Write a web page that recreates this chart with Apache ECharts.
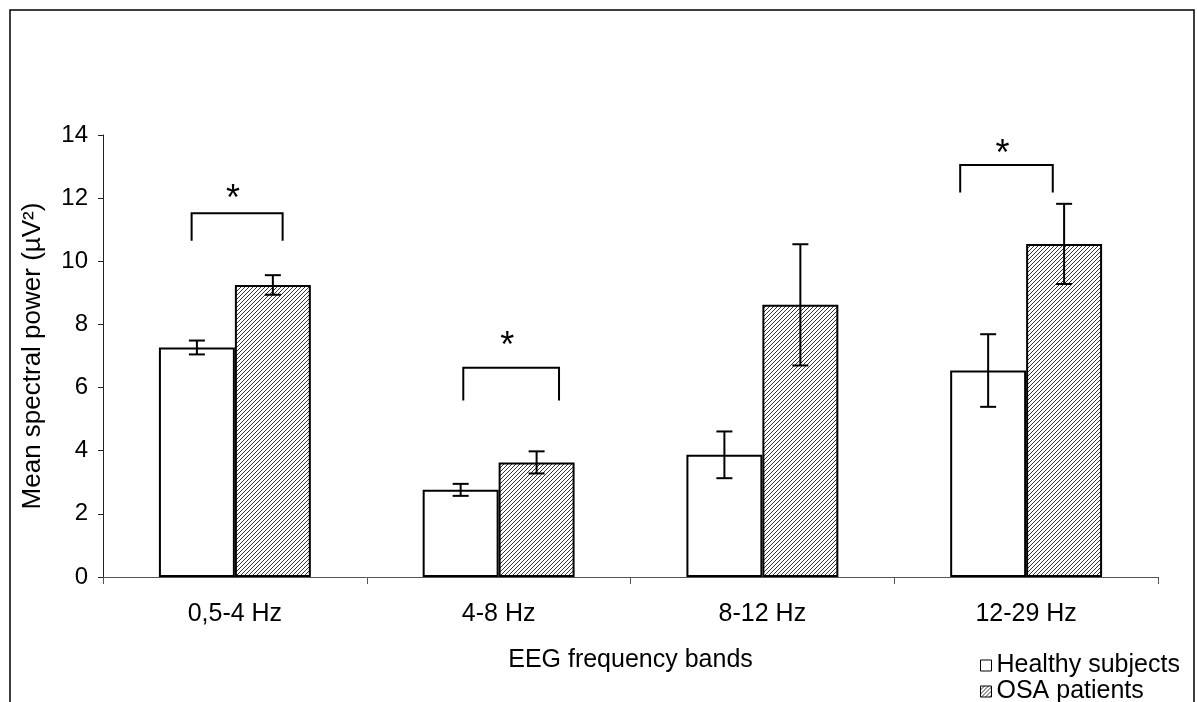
<!DOCTYPE html>
<html>
<head>
<meta charset="utf-8">
<script src="https://cdn.jsdelivr.net/npm/echarts@6/dist/echarts.min.js"></script>
<style>
	html, body { margin: 0; padding: 0; background: #fff; }
	#chart { width: 1198px; height: 702px; }
</style>
</head>
<body>
<div id="chart"></div>
<script>
	'use strict'
	var bands = ['0,5-4 Hz', '4-8 Hz', '8-12 Hz', '12-29 Hz'];
	var healthy = [7.27, 2.76, 3.87, 6.54];
	var healthyErr = [0.22, 0.19, 0.74, 1.15];
	var osa = [9.25, 3.63, 8.62, 10.55];
	var osaErr = [0.31, 0.35, 1.92, 1.27];
	var yTicks = [0, 2, 4, 6, 8, 10, 12, 14];

	/*----significance brackets----*/
	var sigBand = [0, 1, 3];
	var sigLeg = [10.65, 5.59, 12.18];
	var sigTop = [11.52, 6.63, 13.05];
	var sigStar = [12.17, 7.51, 13.58];
	var sigLeft = [-0.164, -0.134, -0.25];
	var sigRight = [0.181, 0.229, 0.101];

	var barFrac = 0.288;
	var font = 'Liberation Sans, Arial, sans-serif';

	// hatch tile
	var tile = document.createElement('canvas');
	tile.width = 4;
	tile.height = 4;
	var tc = tile.getContext('2d');
	tc.fillStyle = '#fff';
	tc.fillRect(0, 0, 4, 4);
	tc.strokeStyle = '#333';
	tc.lineWidth = 1;
	tc.beginPath();
	tc.moveTo(-1, 5); tc.lineTo(5, -1);
	tc.moveTo(-1, 1); tc.lineTo(1, -1);
	tc.moveTo(3, 5); tc.lineTo(5, 3);
	tc.stroke();
	var hatch = { image: tile, repeat: 'repeat' };

	var errData = [];
	for (var i = 0; i < bands.length; i++) {
		errData.push([i, healthy[i], healthyErr[i], -1]);
		errData.push([i, osa[i], osaErr[i], 1]);
	}
	var sigData = [];
	for (var j = 0; j < sigBand.length; j++) {
		sigData.push([sigBand[j], sigLeg[j], sigTop[j], sigStar[j], sigLeft[j], sigRight[j]]);
	}

	var legendBase = {
		orient: 'vertical',
		left: 975,
		itemWidth: 11,
		itemHeight: 11,
		icon: 'rect',
		itemStyle: { borderWidth: 1, borderColor: '#000' },
		textStyle: { fontSize: 25, color: '#000', fontFamily: font }
	};

	var chart = echarts.init(document.getElementById('chart'));
	var option = {
		animation: false,
		backgroundColor: '#fff',
		textStyle: { fontFamily: font },
		graphic: [{
			type: 'rect',
			shape: { x: 10, y: 10, width: 1184, height: 720 },
			style: { fill: null, stroke: '#000', lineWidth: 1.5 },
			silent: true
		}],
		grid: {
			left: 103,
			right: 40,
			top: 135,
			bottom: 125
		},
		legend: [
			Object.assign({}, legendBase, { top: 648, data: ['Healthy subjects'] }),
			Object.assign({}, legendBase, { top: 674, data: ['OSA patients'] })
		],
		xAxis: {
			type: 'category',
			data: bands,
			name: 'EEG frequency bands',
			nameLocation: 'middle',
			nameGap: 71,
			nameTextStyle: { fontSize: 25, color: '#000', fontFamily: font },
			axisLine: { lineStyle: { color: '#555', width: 1 } },
			axisTick: { show: true, length: 7, lineStyle: { color: '#555' } },
			axisLabel: { fontSize: 25, color: '#000', margin: 25, fontFamily: font },
			splitLine: { show: false }
		},
		yAxis: {
			type: 'value',
			min: 0,
			max: 14,
			interval: 2,
			name: 'Mean spectral power (µV²)',
			nameLocation: 'middle',
			nameRotate: 90,
			nameGap: 57,
			nameTextStyle: { fontSize: 26, color: '#000', fontFamily: font },
			axisLine: { show: true, lineStyle: { color: '#222', width: 1 } },
			axisTick: { show: true, length: 5, lineStyle: { color: '#222' } },
			axisLabel: {
				fontSize: 24, color: '#000', margin: 15, fontFamily: font,
				formatter: function(v) { return yTicks.indexOf(v) >= 0 ? String(v) : ''; }
			},
			splitLine: { show: false }
		},
		series: [{
			name: 'Healthy subjects',
			type: 'bar',
			data: healthy,
			barWidth: (barFrac * 100) + '%',
			barGap: '0%',
			itemStyle: { color: '#fff', borderColor: '#000', borderWidth: 2 }
		}, {
			name: 'OSA patients',
			type: 'bar',
			data: osa,
			barWidth: (barFrac * 100) + '%',
			barGap: '0%',
			itemStyle: { color: hatch, borderColor: '#000', borderWidth: 2 }
		}, {
			name: 'errors',
			type: 'custom',
			z: 5,
			silent: true,
			data: errData,
			renderItem: function(params, api) {
				var idx = api.value(0);
				var v = api.value(1);
				var e = api.value(2);
				var side = api.value(3);
				var bw = api.size([1, 0])[0];
				var x = api.coord([idx, v])[0] + side * bw * barFrac / 2;
				var yTop = api.coord([idx, v + e])[1];
				var yBot = api.coord([idx, v - e])[1];
				var cap = 8;
				var st = { stroke: '#000', lineWidth: 2 };
				return {
					type: 'group',
					children: [
						{ type: 'line', shape: { x1: x, y1: yTop, x2: x, y2: yBot }, style: st },
						{ type: 'line', shape: { x1: x - cap, y1: yTop, x2: x + cap, y2: yTop }, style: st },
						{ type: 'line', shape: { x1: x - cap, y1: yBot, x2: x + cap, y2: yBot }, style: st }
					]
				};
			}
		}, {
			name: 'significance',
			type: 'custom',
			z: 5,
			silent: true,
			data: sigData,
			renderItem: function(params, api) {
				var idx = api.value(0);
				var bw = api.size([1, 0])[0];
				var cx = api.coord([idx, 0])[0];
				var xl = cx + api.value(4) * bw;
				var xr = cx + api.value(5) * bw;
				var yl = api.coord([idx, api.value(1)])[1];
				var yt = api.coord([idx, api.value(2)])[1];
				var ys = api.coord([idx, api.value(3)])[1];
				return {
					type: 'group',
					children: [{
						type: 'polyline',
						shape: { points: [[xl, yl], [xl, yt], [xr, yt], [xr, yl]] },
						style: { stroke: '#000', lineWidth: 2, fill: null }
					}, {
						type: 'text',
						x: (xl + xr) / 2 - 4,
						y: ys + 7,
						style: {
							text: '*',
							fontSize: 36,
							fontFamily: font,
							fill: '#000',
							align: 'center',
							verticalAlign: 'middle'
						}
					}]
				};
			}
		}]
	};
	chart.setOption(option);
</script>
</body>
</html>
